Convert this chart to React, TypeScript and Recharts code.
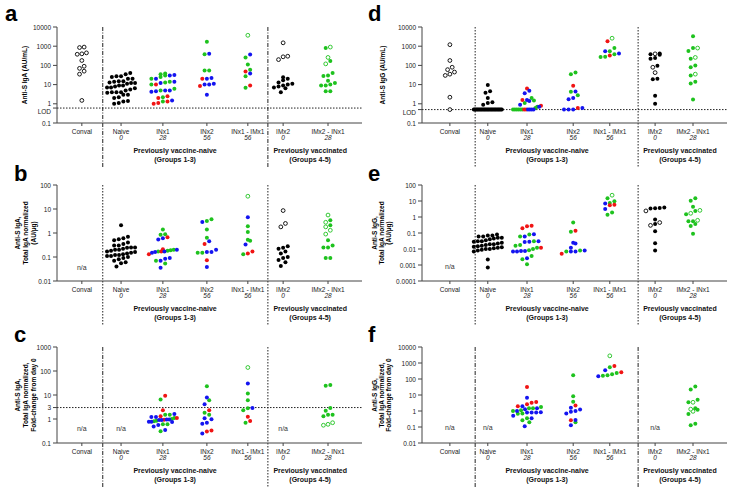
import React from "react";
import { ScatterChart, Scatter, XAxis, YAxis, ReferenceLine } from "recharts";

// group names on the x axis, with study day under each
const GROUPS = ["Conval", "Naive", "INx1", "INx2", "INx1 - IMx1", "IMx2", "IMx2 - INx1"];
const DAYS = ["", "0", "28", "56", "56", "0", "28"];
const COHORTS = [
  ["Previously vaccine-naive", "(Groups 1-3)"],
  ["Previously vaccinated", "(Groups 4-5)"],
];

// ---- a: Anti-S IgA (AU/mL) ----
const aBlack = [[], [40, 35, 27, 27, 25, 20, 20, 15, 15, 14, 13, 12, 12, 11, 9, 9, 8, 7, 7, 6.5, 5.5, 5, 4, 4, 4, 3.8, 3, 3, 2.2, 2, 1.4, 1.3, 1.1, 1.0], [], [], [], [24, 20, 17, 13, 11, 10, 9, 8, 7, 6.5, 4], []];
const aBlackOpen = [[900, 850, 450, 400, 380, 180, 90, 70, 50, 35, 1.5], [], [], [], [], [1500, 300, 280, 200], []];
const aGreen = [[], [], [38, 35, 30, 25, 20, 14, 13, 10, 6, 5, 2.2, 1.3], [1700, 380, 55, 55], [260, 110, 60, 27, 6.8], [], [800, 170, 40, 30, 28, 16, 12, 10, 9, 9, 4.5, 4.5]];
const aGreenOpen = [[], [], [], [], [3700], [], [900, 260, 120]];
const aRed = [[], [], [10, 2.5, 2, 1.3, 1.1, 1.0], [20, 8.5], [48, 9], [], []];
const aBlue = [[], [], [32, 30, 20, 14, 12, 5, 5, 4.5, 4.2, 1.5], [400, 22, 20, 11, 10, 10, 3], [370, 38], [], []];

// ---- b: Anti-S IgA / total IgA ----
const bBlack = [[], [2.1, 0.7, 0.6, 0.55, 0.5, 0.4, 0.35, 0.3, 0.3, 0.25, 0.25, 0.24, 0.22, 0.2, 0.2, 0.18, 0.17, 0.16, 0.15, 0.14, 0.13, 0.12, 0.12, 0.11, 0.11, 0.1, 0.09, 0.08, 0.07, 0.06, 0.055, 0.04], [], [], [], [0.28, 0.24, 0.22, 0.17, 0.14, 0.1, 0.09, 0.075, 0.06, 0.042], []];
const bBlackOpen = [[], [], [], [], [], [8.6, 2.5, 1.8], []];
const bGreen = [[], [], [1.4, 0.88, 0.85, 0.2, 0.19, 0.18, 0.17, 0.07, 0.053], [3.7, 3.2, 1.4, 0.63, 0.15, 0.15], [1.9, 1.1, 0.52, 0.48, 0.13], [], [3.4, 2.1, 0.5, 0.3, 0.25, 0.25, 0.09, 0.09]];
const bGreenOpen = [[], [], [], [], [34], [], [5.6, 2.8, 1.8, 1.3, 0.9]];
const bRed = [[], [], [0.67, 0.21, 0.17, 0.13], [0.35, 0.074], [0.17, 0.14], [], []];
const bBlue = [[], [], [0.6, 0.53, 0.2, 0.17, 0.16, 0.15, 0.09, 0.085, 0.07, 0.036], [2.9, 0.45, 0.2, 0.16, 0.16, 0.038], [4.5, 0.33], [], []];
const bNa = [[0, 0.035]];

// ---- c: IgA fold change ----
const cGreen = [[], [], [6.5, 1.5, 1.5, 1.1, 1.0, 0.85, 0.8, 0.6, 0.6, 0.31], [23, 6.1, 1.8, 1.5], [11.5, 6, 2.8, 2.3, 0.7], [], [26, 24, 2.9, 2.2, 1.5, 1.5, 1.3]];
const cGreenOpen = [[], [], [], [], [140], [], [0.7, 0.6, 0.55]];
const cRed = [[], [], [9.2, 2.3, 1.3, 1.1, 0.93], [2.3, 0.33, 0.3], [1.25, 0.82], [], []];
const cBlue = [[], [], [1.6, 1.2, 1.2, 0.95, 0.95, 0.9, 0.9, 0.77, 0.77, 0.75, 0.56, 0.49, 0.35], [7.8, 4.1, 1.07, 0.97, 0.7, 0.64, 0.25], [30, 2.9], [], []];
const cNa = [[0, 0.4], [1, 0.4], [5, 0.4]];

// ---- d: Anti-S IgG (AU/mL) ----
const dBlack = [[], [9.5, 4.5, 3.8, 2.0, 1.2, 1.1, 0.9, 0.5, 0.5, 0.5, 0.5, 0.5, 0.5, 0.5, 0.5, 0.5, 0.5, 0.5, 0.5, 0.5, 0.5, 0.5, 0.5, 0.5, 0.5, 0.5, 0.5, 0.5, 0.5, 0.5, 0.5, 0.5], [], [], [], [420, 380, 360, 240, 220, 95, 20, 19, 2.6, 1.0], []];
const dBlackOpen = [[1200, 180, 80, 60, 45, 35, 30, 2.2, 0.5], [], [], [], [], [400, 80, 42], []];
const dGreen = [[], [], [2.0, 1.5, 1.1, 0.7, 0.6, 0.5, 0.5, 0.5, 0.5, 0.5, 0.5], [43, 35, 4.2, 2.8], [800, 550, 380, 280, 270], [], [3300, 800, 560, 220, 100, 80, 30, 14, 11.5, 1.7]];
const dGreenOpen = [[], [], [], [], [2600], [], [800, 260, 35]];
const dRed = [[], [], [6.3, 1.6, 0.8, 0.5, 0.5], [8.7, 0.6], [1800, 330], [], []];
const dBlue = [[], [], [4.8, 3.5, 1.6, 1.4, 0.9, 0.7, 0.5, 0.5, 0.5, 0.5], [4.4, 2.0, 1.75, 0.6, 0.5, 0.5, 0.5], [540, 420], [], []];

// ---- e: Anti-S IgG / total IgA ----
const eBlack = [[], [0.08, 0.07, 0.07, 0.06, 0.06, 0.05, 0.05, 0.045, 0.04, 0.035, 0.03, 0.03, 0.028, 0.025, 0.022, 0.02, 0.02, 0.018, 0.016, 0.015, 0.014, 0.013, 0.012, 0.011, 0.01, 0.01, 0.009, 0.008, 0.007, 0.0022, 0.0007], [], [], [], [3.9, 3.6, 3.5, 3.4, 0.7, 0.37, 0.13, 0.023, 0.008], []];
const eBlackOpen = [[], [], [], [], [], [2.4, 0.45, 0.3], []];
const eGreen = [[], [], [0.08, 0.06, 0.03, 0.018, 0.016, 0.012, 0.01, 0.0085, 0.0037, 0.0023, 0.0011], [0.45, 0.12, 0.008, 0.007], [15, 9.5, 7.5, 1.9, 1.4], [], [15, 10.5, 4.4, 2.4, 1.5, 0.55, 0.55, 0.37, 0.27, 0.09]];
const eGreenOpen = [[], [], [], [], [23], [], [2.6, 1.7, 0.62]];
const eRed = [[], [], [0.28, 0.26, 0.2, 0.012], [0.14, 0.005], [5.8, 5.5], [], []];
const eBlue = [[], [], [0.085, 0.06, 0.03, 0.028, 0.027, 0.007, 0.007, 0.0075, 0.0075, 0.0026], [0.025, 0.022, 0.012, 0.008, 0.007, 0.007], [7, 3.2], [], []];
const eNa = [[0, 0.0008]];

// ---- f: IgG fold change ----
const fGreen = [[], [], [1.8, 1.5, 1.5, 1.1, 1.0, 0.7, 0.68, 0.35, 0.26, 0.2], [170, 8.5, 3.8, 0.2], [550, 240, 200, 170, 160], [], [34, 22, 5, 3.5, 1.5, 1.2, 0.65, 0.16, 0.13]];
const fGreenOpen = [[], [], [], [], [2800], [], [3.5, 1.3, 0.95]];
const fRed = [[], [], [32, 3.6, 3.3, 2.6, 2.0], [2.2, 0.26], [650, 260], [], []];
const fBlue = [[], [], [6.7, 2.0, 1.5, 1.3, 1.0, 0.85, 0.8, 0.8, 0.8, 0.5, 0.35, 0.11], [1.6, 1.25, 1.0, 0.9, 0.7, 0.27, 0.13], [350, 150], [], []];
const fNa = [[0, 0.09], [1, 0.09], [5, 0.09]];

const EMPTY = [[], [], [], [], [], [], []];

const STYLES = [
  { key: "black", color: "#000000", open: false },
  { key: "blackOpen", color: "#000000", open: true },
  { key: "green", color: "#1ec21e", open: false },
  { key: "greenOpen", color: "#1ec21e", open: true },
  { key: "red", color: "#f01414", open: false },
  { key: "blue", color: "#1414f0", open: false },
];

// layout
const W = 364;
const H = 168;
const PLOT_L = 57;
const PLOT_R = 362;
const PLOT_T = 27;
const PLOT_B = 123;
const PLOT_W = PLOT_R - PLOT_L;
const PLOT_H = PLOT_B - PLOT_T;
const YW = 40;
const XH = 40;
const FONT = "'Liberation Sans', Arial, sans-serif";
const TXT = "#222";
const DOTTED = "1.5 1.5";
const DASHDOT = "4 1.5 1 1.5";

const LEFT_COL = { centers: [0.57, 1.47, 2.43, 3.44, 4.38, 5.19, 6.22], dividers: [1.05, 4.84], cohorts: [2.71, 5.81] };
const RIGHT_COL = { centers: [0.64, 1.51, 2.41, 3.47, 4.31, 5.35, 6.22], dividers: [1.22, 4.96], cohorts: [2.87, 5.92] };

const PANELS = [
  { letter: "a", left: 0, top: 0, col: LEFT_COL, domain: [0.1, 10000], ticks: [0.1, 0.6, 1, 10, 100, 1000, 10000], refY: 0.6, lod: true,
    label: ["Anti-S IgA (AU/mL)"], labelX: [27], dash: [DASHDOT, DASHDOT], series: [aBlack, aBlackOpen, aGreen, aGreenOpen, aRed, aBlue], na: [] },
  { letter: "b", left: 0, top: 158, col: LEFT_COL, domain: [0.01, 100], ticks: [0.01, 0.1, 1, 10, 100], refY: null, lod: false,
    label: ["Anti-S IgA,", "Total IgA normalized", "(AU/µg)"], labelX: [20, 28, 36], dash: [DOTTED, DOTTED], series: [bBlack, bBlackOpen, bGreen, bGreenOpen, bRed, bBlue], na: bNa },
  { letter: "c", left: 0, top: 320, col: LEFT_COL, domain: [0.1, 1000], ticks: [0.1, 1, 3, 10, 100, 1000], refY: 3, lod: false,
    label: ["Anti-S IgA,", "Total IgA normalized,", "Fold-change from day 0"], labelX: [20, 28, 36], dash: [DASHDOT, DOTTED], series: [EMPTY, EMPTY, cGreen, cGreenOpen, cRed, cBlue], na: cNa },
  { letter: "d", left: 365, top: 0, col: RIGHT_COL, domain: [0.1, 10000], ticks: [0.1, 0.5, 1, 10, 100, 1000, 10000], refY: 0.5, lod: true,
    label: ["Anti-S IgG (AU/mL)"], labelX: [20], dash: [DOTTED, DOTTED], series: [dBlack, dBlackOpen, dGreen, dGreenOpen, dRed, dBlue], na: [] },
  { letter: "e", left: 365, top: 158, col: RIGHT_COL, domain: [0.0001, 100], ticks: [0.0001, 0.001, 0.01, 0.1, 1, 10, 100], refY: null, lod: false,
    label: ["Anti-S IgG,", "Total IgA normalized", "(AU/µg)"], labelX: [12, 19, 26], dash: [DOTTED, DOTTED], series: [eBlack, eBlackOpen, eGreen, eGreenOpen, eRed, eBlue], na: eNa },
  { letter: "f", left: 365, top: 320, col: RIGHT_COL, domain: [0.01, 10000], ticks: [0.01, 0.1, 1, 10, 100, 1000, 10000], refY: null, lod: false,
    label: ["Anti-S IgG,", "Total IgA normalized,", "Fold-change from day 0"], labelX: [12, 19, 26], dash: [DASHDOT, DASHDOT], series: [EMPTY, EMPTY, fGreen, fGreenOpen, fRed, fBlue], na: fNa },
];

// spread points of one group sideways, Prism-style rows
const ROW = 4.5;
const GAP = 4.6;
const MAX_W = 28;

function swarm(series: number[][][], centers: number[], domain: number[]) {
  const lo = Math.log10(domain[0]);
  const hi = Math.log10(domain[1]);
  const out: { x: number; y: number }[][] = series.map(() => []);
  for (let g = 0; g < GROUPS.length; g++) {
    const items: { s: number; v: number; py: number }[] = [];
    series.forEach((ser, s) =>
      ser[g].forEach((v) => items.push({ s, v, py: ((Math.log10(v) - lo) / (hi - lo)) * PLOT_H }))
    );
    items.sort((p, q) => p.py - q.py);
    let i = 0;
    while (i < items.length) {
      let j = i;
      while (j < items.length && items[j].py - items[i].py < ROW) j++;
      const row = items.slice(i, j);
      const n = row.length;
      const gap = n > 1 ? Math.min(GAP, MAX_W / (n - 1)) : 0;
      row.forEach((it, k) => {
        const dx = ((k - (n - 1) / 2) * gap * 7) / PLOT_W;
        out[it.s].push({ x: centers[g] + dx, y: it.v });
      });
      i = j;
    }
  }
  return out;
}

const near = (a: number, b: number) => Math.abs(a - b) < 0.001;

function XTick(props: any) {
  const { x, payload, col } = props;
  const gi = col.centers.findIndex((c: number) => near(c, payload.value));
  if (gi >= 0) {
    return (
      <g>
        <line x1={x} x2={x} y1={PLOT_B} y2={PLOT_B + 3} stroke="#444" />
        <text x={x} y={PLOT_B + 8} textAnchor="middle" dominantBaseline="central" fontFamily={FONT} fontSize={6.5} fill={TXT}>
          {GROUPS[gi]}
        </text>
        <text x={x} y={PLOT_B + 14.5} textAnchor="middle" dominantBaseline="central" fontFamily={FONT} fontSize={6.5} fontStyle="italic" fill={TXT}>
          {DAYS[gi]}
        </text>
      </g>
    );
  }
  const ci = col.cohorts.findIndex((c: number) => near(c, payload.value));
  if (ci < 0) return <g />;
  return (
    <g>
      <text x={x} y={PLOT_B + 27} textAnchor="middle" dominantBaseline="central" fontFamily={FONT} fontSize={7} fontWeight="bold" fill="#111">
        {COHORTS[ci][0]}
      </text>
      <text x={x} y={PLOT_B + 36} textAnchor="middle" dominantBaseline="central" fontFamily={FONT} fontSize={7} fontWeight="bold" fill="#111">
        {COHORTS[ci][1]}
      </text>
    </g>
  );
}

function YTick(props: any) {
  const { x, y, payload, lod, refY } = props;
  const isLod = lod && near(payload.value, refY);
  return (
    <text x={x} y={y + (isLod ? 3 : 0)} textAnchor="end" dominantBaseline="central" fontFamily={FONT} fontSize={6.5} fill={TXT}>
      {isLod ? "LOD" : String(payload.value)}
    </text>
  );
}

function Panel({ cfg }: { cfg: any }) {
  const col = cfg.col;
  const pts = swarm(cfg.series, col.centers, cfg.domain);
  const naData = cfg.na.map((d: number[]) => ({ x: col.centers[d[0]], y: d[1] }));
  const mid = (PLOT_T + PLOT_B) / 2;
  return (
    <div style={{ position: "absolute", left: cfg.left, top: cfg.top, width: W, height: H }}>
      <ScatterChart width={W} height={H} margin={{ top: PLOT_T, right: W - PLOT_R, bottom: H - PLOT_B - XH, left: PLOT_L - YW }}>
        <XAxis
          type="number"
          dataKey="x"
          domain={[0, 7]}
          ticks={[...col.centers, ...col.cohorts]}
          interval={0}
          allowDataOverflow
          height={XH}
          tickLine={false}
          tickSize={0}
          axisLine={{ stroke: "#444" }}
          tick={(p: any) => <XTick {...p} col={col} />}
        />
        <YAxis
          type="number"
          dataKey="y"
          scale="log"
          domain={cfg.domain}
          ticks={cfg.ticks}
          interval={0}
          allowDataOverflow
          width={YW}
          tickSize={4}
          tickMargin={2}
          axisLine={{ stroke: "#444" }}
          tickLine={{ stroke: "#444" }}
          tick={(p: any) => <YTick {...p} lod={cfg.lod} refY={cfg.refY} />}
        />
        {cfg.refY !== null && <ReferenceLine y={cfg.refY} stroke="#222" strokeDasharray={DOTTED} />}
        {col.dividers.map((d: number, i: number) => (
          <ReferenceLine
            key={i}
            x={d}
            shape={(p: any) => (
              <line x1={p.x1} x2={p.x2} y1={Math.min(p.y1, p.y2)} y2={H} stroke="#222" strokeWidth={1} strokeDasharray={cfg.dash[i]} />
            )}
          />
        ))}
        {STYLES.map((st, s) => (
          <Scatter
            key={st.key}
            data={pts[s]}
            isAnimationActive={false}
            shape={(p: any) =>
              st.open ? (
                <circle cx={p.cx} cy={p.cy} r={1.9} fill="#fff" stroke={st.color} strokeWidth={0.9} />
              ) : (
                <circle cx={p.cx} cy={p.cy} r={2} fill={st.color} />
              )
            }
          />
        ))}
        {naData.length > 0 && (
          <Scatter
            data={naData}
            isAnimationActive={false}
            shape={(p: any) => (
              <text x={p.cx} y={p.cy} textAnchor="middle" dominantBaseline="central" fontFamily={FONT} fontSize={7} fill="#333">
                n/a
              </text>
            )}
          />
        )}
      </ScatterChart>
      <svg width={W} height={H} style={{ position: "absolute", left: 0, top: 0, pointerEvents: "none" }}>
        <text x={cfg.left === 0 ? (cfg.top === 0 ? 5 : 14) : 3} y={cfg.top === 0 ? 21 : cfg.top === 158 ? 23 : 22} fontFamily={FONT} fontWeight="bold" fontSize={22} fill="#000">
          {cfg.letter}
        </text>
        {cfg.label.map((line: string, i: number) => (
          <text
            key={i}
            x={cfg.labelX[i]}
            y={mid}
            transform={`rotate(-90 ${cfg.labelX[i]} ${mid})`}
            textAnchor="middle"
            fontFamily={FONT}
            fontWeight="bold"
            fontSize={6.5}
            fill="#000"
          >
            {line}
          </text>
        ))}
      </svg>
    </div>
  );
}

export default function App() {
  return (
    <div style={{ position: "absolute", left: 0, top: 0, width: 729, height: 489, overflow: "hidden", background: "#fff" }}>
      {PANELS.map((cfg) => (
        <Panel key={cfg.letter} cfg={cfg} />
      ))}
    </div>
  );
}
